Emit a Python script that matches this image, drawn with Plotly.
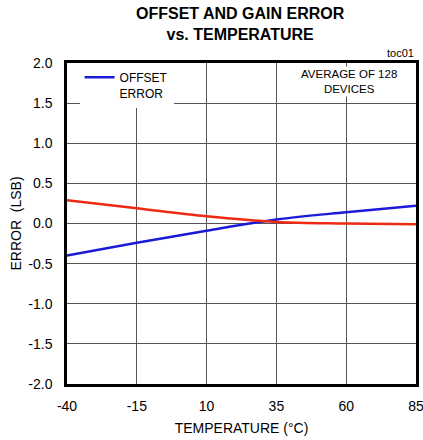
import plotly.graph_objects as go

temperature = [-40, -15, 10, 35, 60, 85]
offset_error = [-0.40, -0.24, -0.09, 0.05, 0.14, 0.22]
gain_error = [0.29, 0.19, 0.09, 0.02, 0.00, -0.01]
x_ticks = [-40, -15, 10, 35, 60, 85]
x_tick_text = ["-40", "-15", "10", "35", "60", "85"]
y_ticks = [-2.0, -1.5, -1.0, -0.5, 0.0, 0.5, 1.0, 1.5, 2.0]
y_tick_text = ["-2.0", "-1.5", "-1.0", "-0.5", "0.0", "0.5", "1.0", "1.5", "2.0"]

FONT = "Liberation Sans, Arial, sans-serif"

fig = go.Figure()
fig.add_trace(go.Scatter(x=temperature, y=offset_error, mode="lines", name="OFFSET<br>ERROR",
                         line=dict(color="#1a1ad8", width=2.5, shape="spline"), showlegend=True))
fig.add_trace(go.Scatter(x=temperature, y=gain_error, mode="lines", name="GAIN ERROR",
                         line=dict(color="#ee2a14", width=2.5, shape="spline"), showlegend=False))

fig.update_layout(
    width=423, height=440,
    margin=dict(l=67, r=7, t=63, b=56),
    paper_bgcolor="white", plot_bgcolor="white",
    font=dict(family=FONT, size=14, color="black"),
    legend=dict(x=0.036, y=1.0, xanchor="left", yanchor="top", bgcolor="white", valign="top",
                font=dict(family=FONT, size=12), itemwidth=30, borderwidth=0, tracegroupgap=0),
    xaxis=dict(range=[-40, 85], tickvals=x_ticks, ticktext=x_tick_text, ticks="", showgrid=True,
               gridcolor="#555", gridwidth=1.3, zeroline=False, showline=True, linecolor="black",
               linewidth=2.5, mirror=True, ticklabelstandoff=7, automargin=False,
               ticklabeloverflow="allow",
               title=dict(text="TEMPERATURE (°C)", font=dict(family=FONT, size=14), standoff=11),
               tickfont=dict(family=FONT, size=14)),
    yaxis=dict(range=[-2, 2], tickvals=y_ticks, ticktext=y_tick_text, ticks="", showgrid=True,
               gridcolor="#555", gridwidth=1.3, zeroline=False, showline=True, linecolor="black",
               linewidth=2.5, mirror=True, ticklabelstandoff=9, automargin=False,
               ticklabeloverflow="allow",
               title=dict(text="ERROR  (LSB)", font=dict(family=FONT, size=14), standoff=4),
               tickfont=dict(family=FONT, size=14)),
    annotations=[
        dict(text="<b>OFFSET AND GAIN ERROR<br>vs. TEMPERATURE</b>", x=0.496, y=1.187,
             xref="paper", yref="paper", xanchor="center", yanchor="top", showarrow=False,
             font=dict(family=FONT, size=16, color="black")),
        dict(text="AVERAGE OF 128<br>DEVICES", x=0.808, y=0.99, xref="paper", yref="paper",
             xanchor="center", yanchor="top", showarrow=False, bgcolor="white",
             font=dict(family=FONT, size=11.5)),
        dict(text="toc01", x=1.0, y=1.005, xref="paper", yref="paper", xanchor="right", yanchor="bottom",
             showarrow=False, font=dict(family=FONT, size=11)),
    ],
)

fig.write_html("out.html", config={"displayModeBar": False},
               post_script="document.body.style.margin='0';")
